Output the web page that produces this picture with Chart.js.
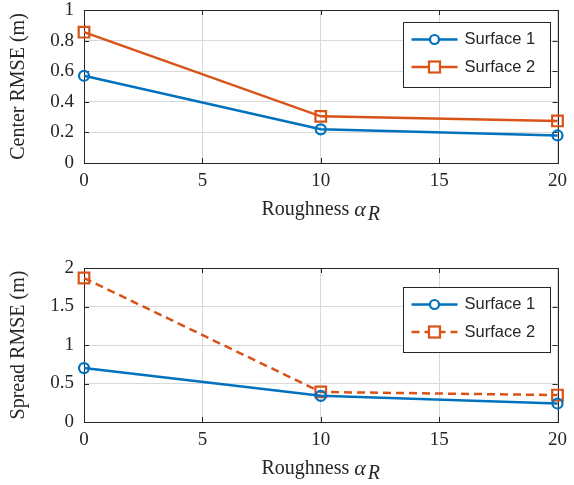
<!DOCTYPE html>
<html>
<head>
<meta charset="utf-8">
<script src="https://cdn.jsdelivr.net/npm/chart.js@4"></script>
<style>
  body { margin: 0; background: #fff; }
  canvas { display: block; }
</style>
</head>
<body>
<canvas id="center" width="574" height="245"></canvas>
<canvas id="spread" width="574" height="240"></canvas>
<script>
// data
const roughness = [0, 10, 20];
const seriesNames = ["Surface 1", "Surface 2"];
const centerS1 = [0.57, 0.22, 0.18];
const centerS2 = [0.855, 0.305, 0.275];
const spreadS1 = [0.70, 0.34, 0.24];
const spreadS2 = [1.87, 0.39, 0.35];
const xTicks = [0, 5, 10, 15, 20];
const centerTicks = [0, 0.2, 0.4, 0.6, 0.8, 1];
const spreadTicks = [0, 0.5, 1, 1.5, 2];

const blue = "#0072BD";
const orange = "#D95319";
const ink = "#262626";
const serif = "'Liberation Serif', 'DejaVu Serif', serif";
const sans = "'Liberation Sans', Arial, sans-serif";

const toPoints = (ys) => roughness.map((x, i) => ({ x: x, y: ys[i] }));

// box, inward tick marks, x title with subscript, legend
const decor = {
  id: "decor",
  beforeDatasetsDraw(chart) {
    const ctx = chart.ctx;
    const a = chart.chartArea;
    const xs = chart.scales.x, ys = chart.scales.y;
    ctx.save();
    ctx.strokeStyle = ink;
    ctx.lineWidth = 1;
    ctx.beginPath();
    xs.ticks.forEach(t => {
      const px = Math.round(xs.getPixelForValue(t.value)) + 0.5;
      ctx.moveTo(px, a.bottom); ctx.lineTo(px, a.bottom - 5);
      ctx.moveTo(px, a.top); ctx.lineTo(px, a.top + 5);
    });
    ys.ticks.forEach(t => {
      const py = Math.round(ys.getPixelForValue(t.value)) + 0.5;
      ctx.moveTo(a.left, py); ctx.lineTo(a.left + 5, py);
      ctx.moveTo(a.right, py); ctx.lineTo(a.right - 5, py);
    });
    ctx.stroke();
    ctx.strokeRect(Math.round(a.left) + 0.5, Math.round(a.top) + 0.5,
      Math.round(a.right - a.left), Math.round(a.bottom - a.top));

    // x title: Roughness α_R
    const cy = a.bottom + 47;
    const main = "Roughness ";
    ctx.fillStyle = ink;
    ctx.textBaseline = "middle";
    ctx.font = "20px " + serif;
    const w1 = ctx.measureText(main).width;
    ctx.font = "italic 22px " + serif;
    const w2 = ctx.measureText("α").width;
    ctx.font = "italic 20px " + serif;
    const w3 = ctx.measureText("R").width;
    let x0 = (a.left + a.right) / 2 - (w1 + w2 + w3 + 2) / 2;
    ctx.textAlign = "left";
    ctx.font = "20px " + serif;
    ctx.fillText(main, x0, cy);
    ctx.font = "italic 22px " + serif;
    ctx.fillText("α", x0 + w1, cy);
    ctx.font = "italic 20px " + serif;
    ctx.fillText("R", x0 + w1 + w2 + 2, cy + 5);
    ctx.restore();
  },
  afterDraw(chart, args, opts) {
    const ctx = chart.ctx;
    const a = chart.chartArea;
    const left = a.right - 155, top = a.top + opts.top;
    const w = 147, h = 65;
    ctx.save();
    ctx.fillStyle = "#fff";
    ctx.fillRect(left, top, w, h);
    ctx.strokeStyle = ink;
    ctx.lineWidth = 1;
    ctx.strokeRect(Math.round(left) + 0.5, Math.round(top) + 0.5, w, h);
    chart.data.datasets.forEach((ds, i) => {
      const cy = top + 17.5 + i * 27.5;
      ctx.strokeStyle = ds.borderColor;
      ctx.lineWidth = ds.borderWidth;
      ctx.setLineDash(ds.borderDash || []);
      ctx.beginPath();
      ctx.moveTo(left + 9, cy); ctx.lineTo(left + 55, cy);
      ctx.stroke();
      ctx.setLineDash([]);
      ctx.fillStyle = "#fff";
      ctx.lineWidth = 2.2;
      const mx = left + 32;
      if (ds.pointStyle === "rect") {
        ctx.fillRect(mx - 5.5, cy - 5.5, 11, 11);
        ctx.strokeRect(mx - 5.5, cy - 5.5, 11, 11);
      } else {
        ctx.beginPath();
        ctx.arc(mx, cy, 4.5, 0, Math.PI * 2);
        ctx.fill();
        ctx.stroke();
      }
      ctx.fillStyle = ink;
      ctx.font = "16.5px " + sans;
      ctx.textBaseline = "middle";
      ctx.fillText(ds.label, left + 62, cy);
    });
    ctx.restore();
  }
};

function makeChart(id, s1, s2, yTicks, yMax, yTitle, dashed, padTop, xHeight, legendTop) {
  return new Chart(document.getElementById(id), {
    type: "line",
    plugins: [decor],
    data: {
      datasets: [
        {
          label: seriesNames[0], data: toPoints(s1),
          borderColor: blue, backgroundColor: "rgba(255,255,255,0)",
          borderWidth: 2.5, pointStyle: "circle", pointRadius: 5,
          pointBorderWidth: 2.2, clip: false
        },
        {
          label: seriesNames[1], data: toPoints(s2),
          borderColor: orange, backgroundColor: "rgba(255,255,255,0)",
          borderWidth: 2.5, borderDash: dashed ? [8, 5] : [],
          pointStyle: "rect", pointRadius: 7.5,
          pointBorderWidth: 2.2, clip: false
        }
      ]
    },
    options: {
      responsive: false,
      animation: false,
      layout: { padding: { top: padTop, right: 10, left: 0, bottom: 0 } },
      plugins: {
        legend: { display: false },
        tooltip: { enabled: false },
        decor: { top: legendTop }
      },
      scales: {
        x: {
          type: "linear", min: 0, max: 20,
          afterBuildTicks: (s) => { s.ticks = xTicks.map(v => ({ value: v })); },
          afterFit: (s) => { s.height = xHeight; },
          grid: { color: "#d9d9d9", drawTicks: false },
          border: { display: false },
          ticks: { color: ink, padding: 7, font: { family: serif, size: 19 } }
        },
        y: {
          min: 0, max: yMax,
          afterBuildTicks: (s) => { s.ticks = yTicks.map(v => ({ value: v })); },
          afterFit: (s) => { s.width = 84; s.paddingTop = 0; s.paddingBottom = 0; },
          grid: { color: "#d9d9d9", drawTicks: false },
          border: { display: false },
          ticks: {
            color: ink, padding: 10, font: { family: serif, size: 19 },
            callback: (v) => String(v)
          },
          title: {
            display: true, text: yTitle, color: ink,
            font: { family: serif, size: 20 }, padding: { top: 7, bottom: 0 }
          }
        }
      }
    }
  });
}

makeChart("center", centerS1, centerS2, centerTicks, 1, "Center RMSE (m)", false, 10, 82, 12);
makeChart("spread", spreadS1, spreadS2, spreadTicks, 2, "Spread RMSE (m)", true, 23, 63, 19);
</script>
</body>
</html>
